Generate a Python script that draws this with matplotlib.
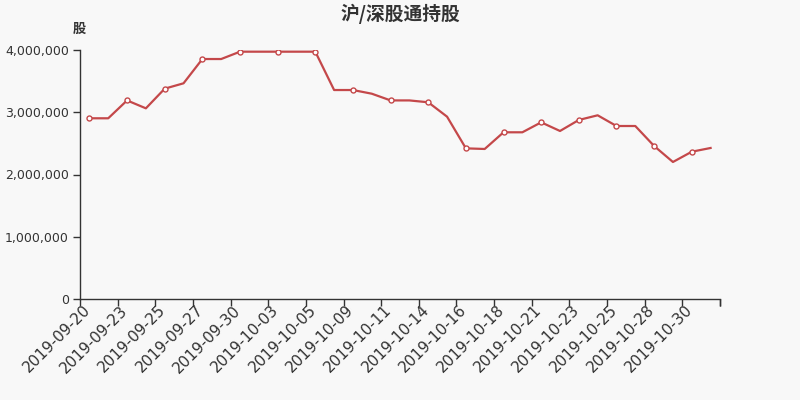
import numpy as np
import matplotlib.pyplot as plt
import matplotlib.transforms as mtransforms

plt.rcParams['font.family'] = ['DejaVu Sans', 'Noto Sans CJK SC']

# Data
dates = ['2019-09-20', '2019-09-21', '2019-09-23', '2019-09-24', '2019-09-25',
         '2019-09-26', '2019-09-27', '2019-09-28', '2019-09-30', '2019-10-02',
         '2019-10-03', '2019-10-04', '2019-10-05', '2019-10-08', '2019-10-09',
         '2019-10-10', '2019-10-11', '2019-10-12', '2019-10-14', '2019-10-15',
         '2019-10-16', '2019-10-17', '2019-10-18', '2019-10-19', '2019-10-21',
         '2019-10-22', '2019-10-23', '2019-10-24', '2019-10-25', '2019-10-26',
         '2019-10-28', '2019-10-29', '2019-10-30', '2019-10-31']
holdings = [2903000, 2903000, 3190000, 3063000, 3379000,
            3465000, 3855000, 3855000, 3973000, 3973000,
            3973000, 3973000, 3973000, 3357000, 3357000,
            3298000, 3190000, 3190000, 3160000, 2929000,
            2420000, 2410000, 2678000, 2678000, 2838000,
            2699000, 2876000, 2951000, 2779000, 2779000,
            2458000, 2201000, 2366000, 2426000]

bg = '#f8f8f8'
line_color = '#c4484a'
text_color = '#333333'

fig = plt.figure(figsize=(8, 4), dpi=100, facecolor=bg)
ax = fig.add_axes([0.1, 0.2525, 0.8, 0.6225], facecolor=bg)

x = np.arange(len(dates))
ax.plot(x, holdings, color=line_color, linewidth=1.6, zorder=2)
# ECharts shows symbols on every other point
ax.plot(x[::2], holdings[::2], linestyle='none', marker='o', markersize=3.6,
        markerfacecolor='white', markeredgecolor=line_color, markeredgewidth=1.0, zorder=3)

ax.set_xlim(-0.5, len(dates) - 0.5)
ax.set_ylim(0, 4000000)

# labels at band centers, ticks at band boundaries
ax.set_xticks(x[::2])
ax.set_xticklabels(dates[::2], rotation=45, ha='right', rotation_mode='anchor',
                   fontsize=11, color=text_color)
ax.tick_params(axis='x', which='major', length=0, pad=4)
shift = mtransforms.ScaledTranslation(-7 / 100, 2 / 100, fig.dpi_scale_trans)
for lbl in ax.get_xticklabels():
    lbl.set_transform(lbl.get_transform() + shift)
ax.set_xticks(np.arange(-0.5, len(dates), 2).tolist() + [len(dates) - 0.5], minor=True)
ax.tick_params(axis='x', which='minor', length=5, color=text_color, width=1)

ax.set_yticks([0, 1000000, 2000000, 3000000, 4000000])
ax.set_yticklabels(['0', '1,000,000', '2,000,000', '3,000,000', '4,000,000'],
                   fontsize=9, color=text_color)
ax.tick_params(axis='y', length=5, color=text_color, width=1, pad=3)

for side in ['top', 'right']:
    ax.spines[side].set_visible(False)
for side in ['left', 'bottom']:
    ax.spines[side].set_color(text_color)
    ax.spines[side].set_linewidth(1)

fig.text(0.5, 0.965, '沪/深股通持股', ha='center', va='center', fontsize=13.5,
         fontweight='bold', color=text_color, family=['Noto Sans CJK SC', 'DejaVu Sans'])
fig.text(0.099, 0.928, '股', ha='center', va='center', fontsize=9.5,
         fontweight='bold', color=text_color, family=['Noto Sans CJK SC', 'DejaVu Sans'])

fig.savefig('out.png', dpi=100, facecolor=bg)
